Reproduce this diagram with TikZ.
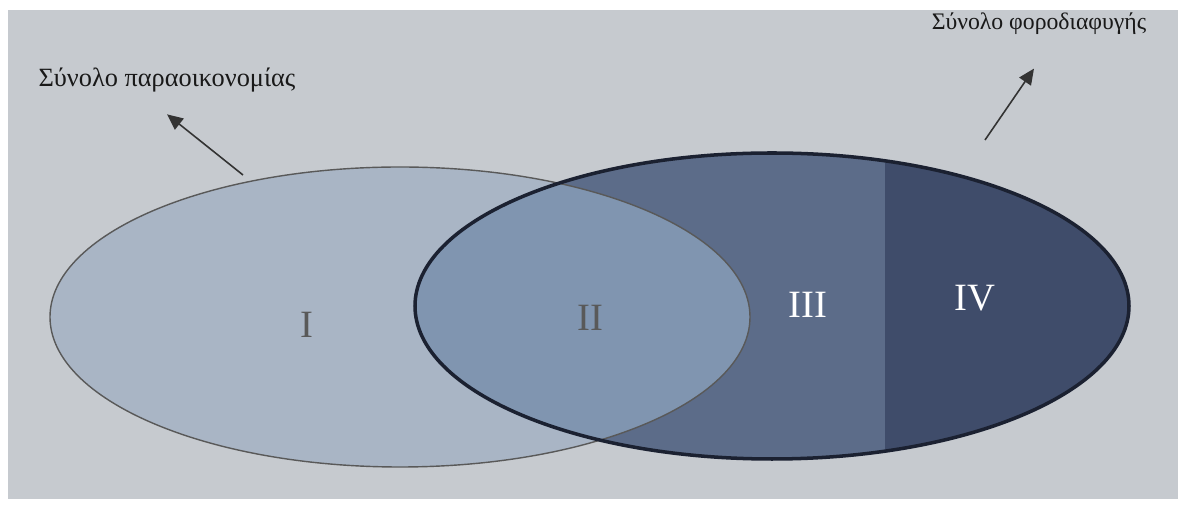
\documentclass[tikz,border=0pt]{standalone}
\usepackage{fontspec}
\setmainfont{Liberation Serif}
\usetikzlibrary{positioning, arrows.meta}
\definecolor{slidegray}{HTML}{C6CACF}
\definecolor{setone}{HTML}{A9B5C5}
\definecolor{settwo}{HTML}{8095B0}
\definecolor{setthree}{HTML}{5C6C89}
\definecolor{setfour}{HTML}{3F4C6A}
\definecolor{rimdark}{HTML}{1B2131}

\begin{document}
\begin{tikzpicture}[x=0.02cm, y=-0.02cm,
    setlabel/.style={font=\fontsize{15}{18}\selectfont, text=black!90},
    roman/.style={font=\fontsize{22}{26}\selectfont},
    pointer/.style={-{Triangle[length=9pt, width=8pt]}, line width=0.9pt, draw=black!80}]
  \useasboundingbox (0,0) rectangle (1178,509);
  \fill[white] (0,0) rectangle (1178,509);
  \fill[slidegray] (8,10) rectangle (1178,499);
  % the two sets
  \fill[setone] (400,317) ellipse [x radius=350, y radius=150];
  \fill[setthree] (772,306) ellipse [x radius=357, y radius=153];
  \begin{scope}
    \clip (772,306) ellipse [x radius=357, y radius=153];
    \fill[setfour] (885,100) rectangle (1200,500);
    \clip (400,317) ellipse [x radius=350, y radius=150];
    \fill[settwo] (0,0) rectangle (1178,509);
  \end{scope}
  \draw[gray!70!black, line width=0.8pt] (400,317) ellipse [x radius=350, y radius=150];
  \draw[rimdark, line width=2pt] (772,306) ellipse [x radius=357, y radius=153];

  \node[roman, text=black!65] (regI) at (307,325) {I};
  \node[roman, text=black!65] (regII) at (590,318) {II};
  \node[roman, text=white] (regIII) at (808,305) {III};
  \node[roman, text=white] (regIV) at (975,298) {IV};

  \node[setlabel] (shadow) at (167,80) {Σύνολο παραοικονομίας};
  \node[setlabel, font=\fontsize{13.5}{16}\selectfont] (evasion) at (1039,24) {Σύνολο φοροδιαφυγής};
  \coordinate (shadowtail) at (243,175);
  \coordinate (evasiontail) at (985,140);
  \draw[pointer] (shadowtail) -- ([yshift=-0.32cm]shadow.south);
  \draw[pointer] (evasiontail) -- ([xshift=-0.1cm, yshift=-0.55cm]evasion.south);
\end{tikzpicture}
\end{document}
